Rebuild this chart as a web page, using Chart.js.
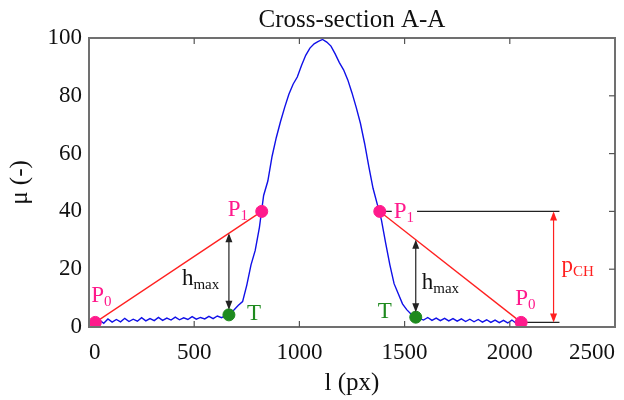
<!DOCTYPE html>
<html>
<head>
<meta charset="utf-8">
<script src="https://cdn.jsdelivr.net/npm/chart.js@4"></script>
<style>
  html, body { margin: 0; padding: 0; background: #fff; }
  #wrap { width: 624px; height: 400px; }
</style>
</head>
<body>
<div id="wrap"><canvas id="profileChart" width="624" height="400"></canvas></div>
<script>
// PROFILE DATA (cross-section A-A)
const profileX = [30, 50, 70, 90, 110, 130, 150, 170, 190, 210, 230, 250, 270, 290, 310, 330, 350, 370, 390, 410,
  430, 450, 470, 490, 510, 530, 550, 570, 590, 610, 630, 650, 670, 690, 710, 730, 750, 770, 790, 810,
  830, 850, 870, 890, 910, 930, 950, 970, 990, 1010, 1030, 1050, 1070, 1090, 1110, 1130, 1150, 1170, 1190, 1210,
  1230, 1250, 1270, 1290, 1310, 1330, 1350, 1370, 1390, 1410, 1430, 1450, 1470, 1490, 1510, 1530, 1550, 1570, 1590, 1610,
  1630, 1650, 1670, 1690, 1710, 1730, 1750, 1770, 1790, 1810, 1830, 1850, 1870, 1890, 1910, 1930, 1950, 1970, 1990, 2010,
  2030, 2050];
const profileY = [1.6, 2.4, 1.3, 2.8, 1.7, 2.6, 1.8, 3.0, 1.9, 2.7, 2.0, 3.2, 2.1, 2.9, 2.2, 3.3, 2.3, 3.1, 2.4, 3.4,
  2.5, 3.2, 2.6, 3.6, 2.7, 3.3, 2.8, 3.7, 2.9, 3.8, 3.2, 3.9, 4.2, 6.0, 7.5, 8.8, 14.5, 21.5, 26.5, 34.5,
  45.5, 50.5, 59.0, 65.5, 71.0, 76.0, 80.5, 84.0, 86.5, 90.5, 94.0, 96.5, 98.0, 98.8, 99.5, 98.6, 97.2, 94.5, 91.5, 89.0,
  85.5, 81.0, 76.0, 70.5, 63.5, 55.5, 48.0, 42.5, 37.0, 29.0, 21.5, 15.0, 11.5, 8.0, 6.0, 4.5, 3.5, 3.0, 2.4, 3.3,
  2.3, 3.1, 2.2, 3.0, 2.1, 2.9, 2.0, 2.8, 1.9, 2.7, 1.8, 2.6, 1.7, 2.5, 1.6, 2.4, 1.5, 2.3, 1.4, 2.4,
  1.3, 1.8];

// P0 / P1 points: left P0, left P1, right P1, right P0
const pointX = [30, 821, 1382, 2054];
const pointY = [1.6, 40, 40, 1.6];
const pointNames = ["P0", "P1", "P1", "P0"];

// T points (left, right)
const troughX = [665, 1553];
const troughY = [4.2, 3.4];

// reference lines for p_CH
const refLineEndX = 2236;
const pchArrowX = 2208;

// AXES
const xTicks = [0, 500, 1000, 1500, 2000, 2500];
const yTicks = [0, 20, 40, 60, 80, 100];

const SERIF = "'Liberation Serif', 'Times New Roman', serif";
const PINK = "#ff1a8c";
const GREEN = "#1e8a1e";
const RED = "#ff2020";

function xy(xs, ys) {
  return xs.map(function (x, i) { return { x: x, y: ys[i] }; });
}

const pts = xy(pointX, pointY);
const troughs = xy(troughX, troughY);

// red line y at a given x between two points
function lineAt(a, b, x) {
  return a.y + (b.y - a.y) * (x - a.x) / (b.x - a.x);
}

function arrowHead(ctx, x, y, dir, color) {
  ctx.fillStyle = color;
  ctx.beginPath();
  ctx.moveTo(x, y);
  ctx.lineTo(x - 3.5, y - dir * 9);
  ctx.lineTo(x + 3.5, y - dir * 9);
  ctx.closePath();
  ctx.fill();
}

function vArrow(ctx, x, y1, y2, color) {
  ctx.strokeStyle = color;
  ctx.lineWidth = 1.2;
  ctx.beginPath();
  ctx.moveTo(x, y1 + 2);
  ctx.lineTo(x, y2 - 2);
  ctx.stroke();
  arrowHead(ctx, x, y1, -1, color);
  arrowHead(ctx, x, y2, 1, color);
}

function subText(ctx, main, sub, x, y, color, bg) {
  ctx.textAlign = "left";
  ctx.textBaseline = "alphabetic";
  ctx.font = "23px " + SERIF;
  const w1 = ctx.measureText(main).width;
  ctx.font = "15px " + SERIF;
  const w2 = ctx.measureText(sub).width;
  if (bg) {
    ctx.fillStyle = "#fff";
    ctx.fillRect(x - 2, y - 13, w1 + w2 + 5, 9);
  }
  ctx.fillStyle = color;
  ctx.font = "23px " + SERIF;
  ctx.fillText(main, x, y);
  ctx.font = "15px " + SERIF;
  ctx.fillText(sub, x + w1, y + 4);
}

// frame, mirrored ticks, arrows and labels
const annotate = {
  id: "annotate",
  beforeDatasetsDraw(chart) {
    const ctx = chart.ctx;
    const xs = chart.scales.x, ys = chart.scales.y;
    ctx.save();
    // black reference lines on the right (level of P1 and P0)
    ctx.strokeStyle = "#222";
    ctx.lineWidth = 1.2;
    [2, 3].forEach(function (i) {
      const py = ys.getPixelForValue(pts[i].y);
      ctx.beginPath();
      ctx.moveTo(xs.getPixelForValue(pts[i].x), py);
      ctx.lineTo(xs.getPixelForValue(refLineEndX), py);
      ctx.stroke();
    });
    ctx.restore();
  },
  afterDatasetsDraw(chart) {
    const ctx = chart.ctx;
    const a = chart.chartArea;
    const xs = chart.scales.x, ys = chart.scales.y;
    ctx.save();

    // frame
    ctx.strokeStyle = "#707070";
    ctx.lineWidth = 2;
    ctx.strokeRect(a.left, a.top, a.right - a.left, a.bottom - a.top);

    // inward ticks: bottom, top, right
    ctx.lineWidth = 1.2;
    ctx.strokeStyle = "#555";
    xs.ticks.forEach(function (t) {
      const px = xs.getPixelForValue(t.value);
      if (px <= a.left + 1 || px >= a.right - 1) return;
      ctx.beginPath();
      ctx.moveTo(px, a.bottom); ctx.lineTo(px, a.bottom - 6);
      ctx.moveTo(px, a.top); ctx.lineTo(px, a.top + 6);
      ctx.stroke();
    });
    ys.ticks.forEach(function (t) {
      const py = ys.getPixelForValue(t.value);
      if (py <= a.top + 1 || py >= a.bottom - 1) return;
      ctx.beginPath();
      ctx.moveTo(a.right, py); ctx.lineTo(a.right - 6, py);
      ctx.stroke();
    });

    // h_max arrows (red line down to T)
    const lines = [[pts[0], pts[1]], [pts[2], pts[3]]];
    troughs.forEach(function (t, i) {
      const px = xs.getPixelForValue(t.x);
      const yTop = ys.getPixelForValue(lineAt(lines[i][0], lines[i][1], t.x));
      const yBot = ys.getPixelForValue(t.y) - 5;
      vArrow(ctx, px, yTop, yBot, "#222");
      const mid = (yTop + yBot) / 2;
      const lx = i === 0 ? px - 47 : px + 6;
      subText(ctx, "h", "max", lx, mid + 13, "#111", false);
      // T labels
      const ty = ys.getPixelForValue(t.y);
      ctx.font = "23px " + SERIF;
      ctx.fillStyle = GREEN;
      ctx.textAlign = "left";
      ctx.fillText("T", i === 0 ? px + 18 : px - 38, ty + (i === 0 ? 5 : 1));
    });

    // p_CH arrow
    const pax = xs.getPixelForValue(pchArrowX);
    const py1 = ys.getPixelForValue(pts[2].y);
    const py2 = ys.getPixelForValue(pts[3].y);
    vArrow(ctx, pax, py1, py2, RED);
    subText(ctx, "p", "CH", pax + 8, (py1 + py2) / 2 + 5, RED, false);

    // P labels
    const offs = [[-4, -20], [-34, 5], [14, 7], [-6, -17]];
    pts.forEach(function (p, i) {
      const px = xs.getPixelForValue(p.x);
      const py = ys.getPixelForValue(p.y);
      subText(ctx, pointNames[i].charAt(0), pointNames[i].charAt(1),
        px + offs[i][0], py + offs[i][1], PINK, i === 2);
    });

    ctx.restore();
  }
};

new Chart(document.getElementById("profileChart"), {
  type: "scatter",
  data: {
    datasets: [
      {
        data: xy(profileX, profileY),
        showLine: true,
        borderColor: "#1010e8",
        borderWidth: 1.4,
        pointRadius: 0,
        order: 5
      },
      {
        data: [pts[0], pts[1]],
        showLine: true,
        borderColor: RED,
        borderWidth: 1.3,
        pointRadius: 0,
        order: 4
      },
      {
        data: [pts[2], pts[3]],
        showLine: true,
        borderColor: RED,
        borderWidth: 1.3,
        pointRadius: 0,
        order: 4
      },
      {
        data: pts,
        pointRadius: 6,
        pointBackgroundColor: PINK,
        pointBorderColor: PINK,
        order: 1
      },
      {
        data: troughs,
        pointRadius: 6,
        pointBackgroundColor: GREEN,
        pointBorderColor: GREEN,
        order: 1
      }
    ]
  },
  options: {
    responsive: false,
    animation: false,
    layout: { padding: { right: 9 } },
    plugins: {
      legend: { display: false },
      tooltip: { enabled: false },
      title: {
        display: true,
        text: "Cross-section A-A",
        fullSize: false,
        color: "#111",
        font: { family: SERIF, size: 25, weight: "normal" },
        padding: { top: 5, bottom: 3 }
      }
    },
    scales: {
      x: {
        type: "linear",
        min: 0,
        max: 2500,
        afterBuildTicks: function (s) { s.ticks = xTicks.map(function (v) { return { value: v }; }); },
        afterFit: function (s) { s.height = 73; s.paddingLeft = 0; s.paddingRight = 0; },
        grid: { display: false, drawTicks: false },
        border: { display: false },
        ticks: {
          color: "#111",
          padding: 12,
          align: "inner",
          font: { family: SERIF, size: 23 },
          callback: function (v) { return String(v); }
        },
        title: {
          display: true,
          text: "l (px)",
          color: "#111",
          font: { family: SERIF, size: 25 },
          padding: { top: 0, bottom: 2 }
        }
      },
      y: {
        min: 0,
        max: 100,
        afterBuildTicks: function (s) { s.ticks = yTicks.map(function (v) { return { value: v }; }); },
        afterFit: function (s) { s.width = 89; s.paddingTop = 0; s.paddingBottom = 0; },
        grid: { display: false, drawTicks: false },
        border: { display: false },
        ticks: {
          color: "#111",
          padding: 7,
          font: { family: SERIF, size: 23 },
          callback: function (v) { return String(v); }
        },
        title: {
          display: true,
          text: "μ (-)",
          color: "#111",
          font: { family: SERIF, size: 25 },
          padding: { top: 5, bottom: 0 }
        }
      }
    }
  },
  plugins: [annotate]
});
</script>
</body>
</html>
